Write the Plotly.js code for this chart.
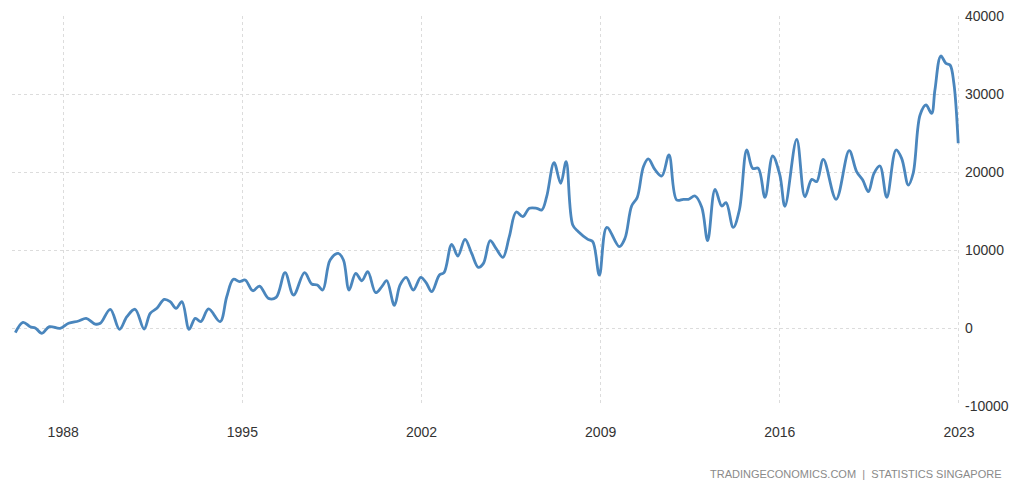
<!DOCTYPE html>
<html>
<head>
<meta charset="utf-8">
<script src="https://cdn.plot.ly/plotly-3.0.1.min.js"></script>
<style>html,body{margin:0;padding:0;background:#fff;}#chart{width:1024px;height:488px;}</style>
</head>
<body>
<div id="chart"></div>
<script>
// Decimal-year positions of the readings
const periods = [
  1986.13, 1986.43, 1986.71, 1986.91, 1987.17, 1987.46, 1987.88, 1988.21, 1988.60, 1988.90,
  1989.25, 1989.45, 1989.84, 1990.20, 1990.49, 1990.81, 1991.16, 1991.40, 1991.66, 1991.95,
  1992.18, 1992.41, 1992.64, 1992.92, 1993.16, 1993.38, 1993.68, 1994.13, 1994.39, 1994.65,
  1994.89, 1995.11, 1995.41, 1995.67, 1996.02, 1996.32, 1996.67, 1997.00, 1997.43, 1997.71,
  1997.93, 1998.14, 1998.43, 1998.75, 1998.95, 1999.17, 1999.43, 1999.67, 1999.90, 2000.21,
  2000.45, 2000.64, 2000.94, 2001.16, 2001.40, 2001.68, 2001.97, 2002.18, 2002.40, 2002.70,
  2002.88, 2003.18, 2003.42, 2003.70, 2003.96, 2004.22, 2004.42, 2004.68, 2004.91, 2005.18,
  2005.43, 2005.70, 2005.96, 2006.21, 2006.50, 2006.70, 2006.89, 2007.18, 2007.44, 2007.65,
  2007.91, 2008.13, 2008.50, 2008.69, 2008.95, 2009.24, 2009.73, 2009.95, 2010.21, 2010.43,
  2010.67, 2010.86, 2011.13, 2011.39, 2011.67, 2011.97, 2012.23, 2012.43, 2012.69, 2012.95,
  2013.18, 2013.47, 2013.73, 2013.90, 2014.18, 2014.42, 2014.71, 2014.94, 2015.16, 2015.42,
  2015.72, 2016.00, 2016.20, 2016.66, 2016.98, 2017.25, 2017.44, 2017.70, 2018.20, 2018.71,
  2019.00, 2019.24, 2019.46, 2019.68, 2019.91, 2020.18, 2020.54, 2020.76, 2021.02, 2021.21,
  2021.48, 2021.71, 2021.93, 2022.06, 2022.29, 2022.49, 2022.65, 2022.80, 2022.97
];
// Values (SGD million)
const values = [
  -600, 730, 170, 0, -680, 170, -40, 600, 900, 1240,
  510, 600, 2400, -170, 1450, 2400, -130, 1880, 2520, 3670,
  3380, 2520, 3380, -170, 1240, 810, 2440, 810, 4010, 6240,
  5940, 6150, 4780, 5380, 3800, 3930, 7090, 4230, 7090, 5640,
  5510, 4870, 8720, 9570, 8720, 4870, 7010, 6060, 7220, 4530,
  5300, 6060, 2900, 5500, 6500, 4870, 6500, 5810, 4660, 6790,
  7090, 10730, 9230, 11370, 9570, 7780, 8290, 11200, 10220, 9060,
  11710, 14870, 14270, 15340, 15340, 15130, 16830, 21190, 18550, 21320,
  13210, 12350, 11370, 11070, 6790, 12900, 10430, 11500, 15640, 16750,
  20680, 21670, 20260, 19490, 22180, 16410, 16500, 16500, 16920, 15470,
  11200, 17780, 15640, 16070, 12900, 15130, 22820, 20470, 20470, 16750,
  22050, 19620, 15600, 24190, 16830, 19060, 18760, 21630, 16500, 22740,
  20050, 18970, 17480, 19830, 20770, 16750, 22820, 21750, 18330, 19830,
  27310, 28590, 27520, 30510, 34870, 33930, 33720, 31370, 23680
];
const xTickVals = [1988, 1995, 2002, 2009, 2016, 2023];
const xTickText = ['1988', '1995', '2002', '2009', '2016', '2023'];
const yTickVals = [-10000, 0, 10000, 20000, 30000, 40000];
const yTickText = ['-10000', '0', '10000', '20000', '30000', '40000'];
const sourceText = 'TRADINGECONOMICS.COM  |  STATISTICS SINGAPORE';

const trace = {
  x: periods,
  y: values,
  type: 'scatter',
  mode: 'lines',
  line: {color: '#4a86bd', width: 2.8, shape: 'spline', smoothing: 1},
  hoverinfo: 'skip'
};

const layout = {
  width: 1024,
  height: 488,
  margin: {l: 12, r: 64, t: 16, b: 82},
  paper_bgcolor: '#ffffff',
  plot_bgcolor: '#ffffff',
  showlegend: false,
  font: {family: 'Liberation Sans, Arial, sans-serif', size: 14, color: '#333333'},
  xaxis: {
    type: 'linear',
    range: [1986.0, 2023.04],
    tickvals: xTickVals,
    ticktext: xTickText,
    showgrid: true,
    gridcolor: '#dcdcdc',
    griddash: 'dot',
    gridwidth: 1,
    zeroline: false,
    showline: false,
    ticks: '',
    tickfont: {size: 14, color: '#333333'},
    ticklabelstandoff: 16
  },
  yaxis: {
    side: 'right',
    range: [-10000, 40000],
    tickvals: yTickVals,
    ticktext: yTickText,
    showgrid: true,
    gridcolor: '#dcdcdc',
    griddash: 'dot',
    gridwidth: 1,
    zeroline: false,
    showline: false,
    ticks: '',
    tickfont: {size: 14, color: '#333333'},
    ticklabelstandoff: 4
  },
  annotations: [{
    xref: 'paper', yref: 'paper',
    x: 1.046, y: -0.175,
    xanchor: 'right', yanchor: 'middle',
    text: sourceText,
    showarrow: false,
    font: {size: 11, color: '#8a8a8a'}
  }]
};

Plotly.newPlot('chart', [trace], layout, {staticPlot: true, displayModeBar: false});
</script>
</body>
</html>
